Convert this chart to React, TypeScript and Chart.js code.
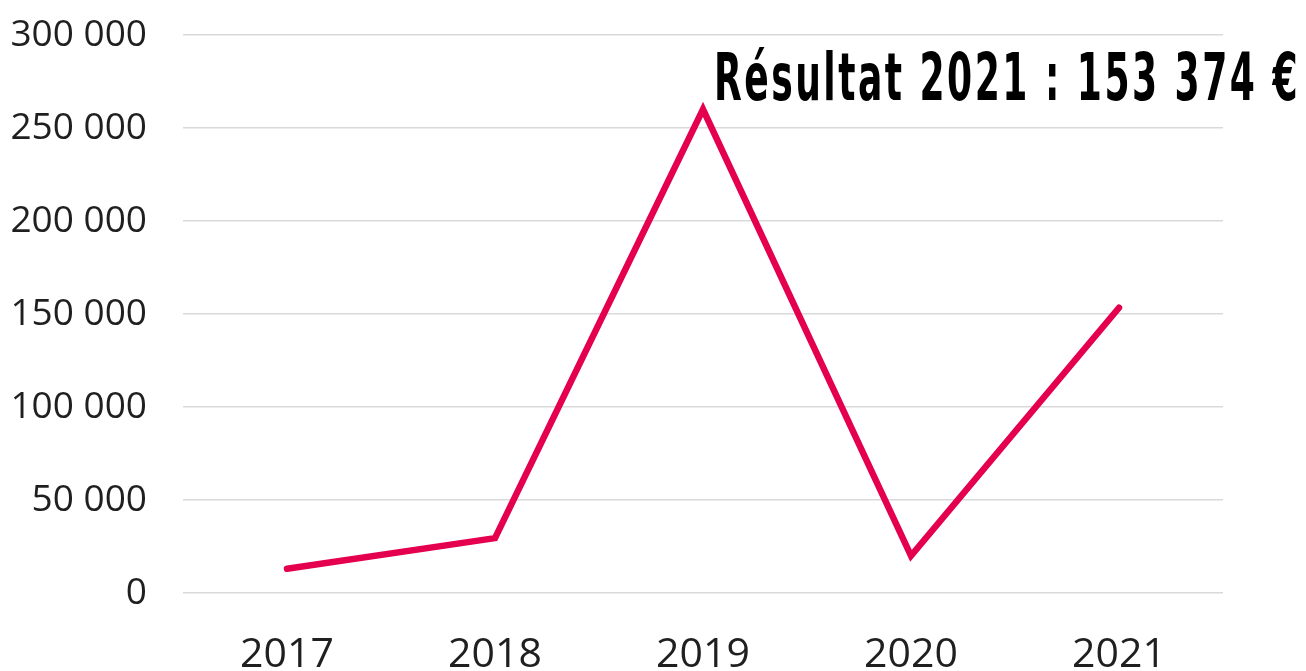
import React, { useEffect, useRef } from "react";
import { Chart, registerables } from "chart.js";

Chart.register(...registerables);

const categories = ["2017", "2018", "2019", "2020", "2021"];
const resultValues = [13000, 29500, 260000, 20000, 153374];
const yTickValues = [0, 50000, 100000, 150000, 200000, 250000, 300000];
const titleText = "Résultat 2021 : 153 374 €";

function formatThousands(v: number): string {
  return String(Math.round(v)).replace(/\B(?=(\d{3})+(?!\d))/g, " ");
}

const titlePlugin = {
  id: "resultTitle",
  afterDraw(chart: any) {
    const ctx = chart.ctx as CanvasRenderingContext2D;
    ctx.save();
    ctx.font = 'bold 65px "Liberation Sans Narrow", "DejaVu Sans Condensed", sans-serif';
    (ctx as any).letterSpacing = "4px";
    const w = ctx.measureText(titleText).width;
    const target = 586;
    ctx.translate(714, 100);
    ctx.scale(target / w, 1);
    ctx.fillStyle = "#000000";
    ctx.textBaseline = "alphabetic";
    ctx.textAlign = "left";
    ctx.fillText(titleText, 0, 0);
    ctx.restore();
  },
};

export default function App() {
  const canvasRef = useRef<HTMLCanvasElement | null>(null);

  useEffect(() => {
    document.body.style.margin = "0";
    const canvas = canvasRef.current;
    if (!canvas) return;
    const chart = new Chart(canvas, {
      type: "line",
      data: {
        labels: categories,
        datasets: [
          {
            label: "Résultat",
            data: resultValues,
            borderColor: "#E5004F",
            borderWidth: 6.5,
            borderCapStyle: "round",
            borderJoinStyle: "miter",
            pointRadius: 0,
            pointHoverRadius: 0,
            tension: 0,
            fill: false,
          },
        ],
      },
      options: {
        animation: false,
        responsive: true,
        maintainAspectRatio: false,
        layout: { padding: { top: 35, right: 83, bottom: 0, left: 0 } },
        plugins: {
          legend: { display: false },
          tooltip: { enabled: false },
          title: { display: false },
        },
        scales: {
          x: {
            type: "category",
            offset: true,
            grid: { display: false, drawTicks: false },
            border: { display: false },
            ticks: {
              color: "#1f1f1f",
              font: { family: '"Open Sans", sans-serif', size: 41 },
              padding: 38,
              maxRotation: 0,
              autoSkip: false,
            },
            afterFit(scale: any) {
              scale.height = 78;
            },
          },
          y: {
            min: 0,
            max: 300000,
            grid: {
              color: "#d9d9d9",
              lineWidth: 1.5,
              drawTicks: true,
              tickLength: 36,
              tickColor: "rgba(0,0,0,0)",
            },
            border: { display: false },
            afterBuildTicks(scale: any) {
              scale.ticks = yTickValues.map((v) => ({ value: v }));
            },
            ticks: {
              color: "#1f1f1f",
              font: { family: '"Open Sans", sans-serif', size: 37 },
              padding: 0,
              callback: (v: any) => formatThousands(Number(v)),
            },
            afterFit(scale: any) {
              scale.width = 183;
            },
          },
        },
      },
      plugins: [titlePlugin],
    });
    return () => chart.destroy();
  }, []);

  return (
    <div style={{ position: "relative", width: "1306px", height: "671px" }}>
      <canvas ref={canvasRef} />
    </div>
  );
}
